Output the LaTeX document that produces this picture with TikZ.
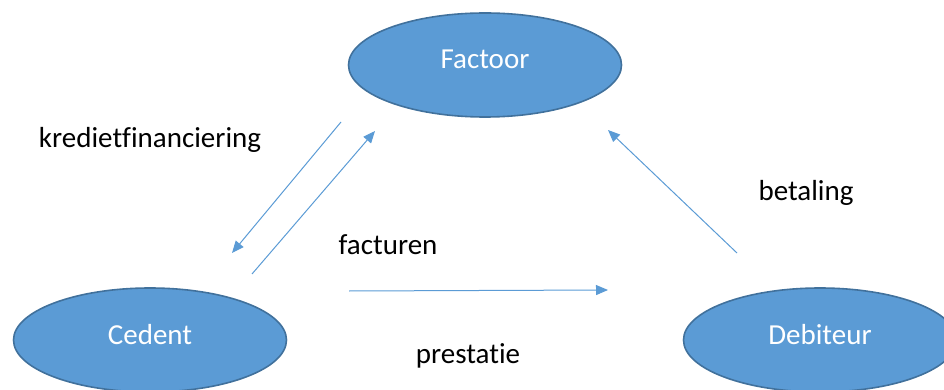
\documentclass[tikz,border=0pt]{standalone}
\usepackage{fontspec}
\setmainfont[Ligatures=NoCommon]{Carlito}
\usetikzlibrary{shapes, arrows.meta, positioning}

\definecolor{partyblue}{HTML}{5B9BD5}
\definecolor{partyborder}{HTML}{41719C}

\begin{document}
\begin{tikzpicture}[x=1pt, y=-1pt, >={Triangle[length=12pt, width=10pt]},
  party/.style={ellipse, draw=partyborder, line width=1.6pt, fill=partyblue,
    minimum width=273pt, minimum height=104pt, inner sep=0pt, text=white,
    text height=20pt, text depth=12pt, font=\fontsize{29}{34}\selectfont},
  flow/.style={->, draw=partyblue, line width=1pt},
  flowlabel/.style={font=\fontsize{29}{34}\selectfont}]
  \useasboundingbox (0,0) rectangle (944,390);
  \clip (0,0) rectangle (944,390);

  % Partijen
  \node[party] (factoor) at (485,65) {Factoor};
  \node[party] (cedent) at (150,340) {Cedent};
  \node[party] (debiteur) at (820,340) {Debiteur};

  % Eindpunten van de pijlen
  \coordinate (krediet start) at (341,122);
  \coordinate (krediet end) at (232,253);
  \coordinate (factuur start) at (252,274);
  \coordinate (factuur end) at (375,131);
  \coordinate (betaling start) at (737,253);
  \coordinate (betaling end) at (608,130);
  \coordinate (prestatie start) at (349,291);
  \coordinate (prestatie end) at (608,290);

  % Stromen
  \draw[flow] (krediet start) -- (krediet end);
  \draw[flow] (factuur start) -- (factuur end);
  \draw[flow] (betaling start) -- (betaling end);
  \draw[flow] (prestatie start) -- (prestatie end);

  % Labels
  \node[flowlabel] (kredietlabel) at (150,140) {kredietfinanciering};
  \node[flowlabel] (betalinglabel) at (806,193) {betaling};
  \node[flowlabel] (facturenlabel) at (388,245) {facturen};
  \node[flowlabel] (prestatielabel) at (468,356) {prestatie};
\end{tikzpicture}
\end{document}
